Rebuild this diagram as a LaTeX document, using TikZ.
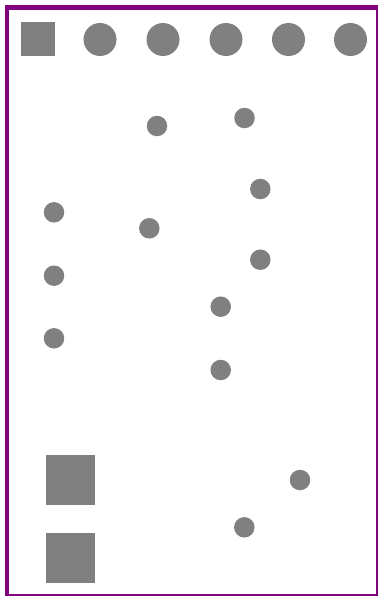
\documentclass[tikz,border=0pt]{standalone}
\definecolor{frame}{HTML}{800080}
\definecolor{shape}{HTML}{808080}
\tikzset{
  bigdot/.style={circle,fill=shape,draw=none,inner sep=0pt,minimum size=33pt},
  dot/.style={circle,fill=shape,draw=none,inner sep=0pt,minimum size=20.5pt},
  smallsq/.style={rectangle,fill=shape,draw=none,inner sep=0pt,minimum size=34pt},
  bigsq/.style={rectangle,fill=shape,draw=none,inner sep=0pt,minimum size=49.5pt},
}
\begin{document}
\begin{tikzpicture}[x=1pt,y=-1pt]
\useasboundingbox (0,0) rectangle (379,597);
\fill[white] (0,0) rectangle (379,597);
% frame
\fill[frame] (4.5,5) rectangle (9,596);
\fill[frame] (4.5,5) rectangle (378,10);
\fill[frame] (375.5,5) rectangle (377.5,596);
\fill[frame] (4.5,594) rectangle (377.5,596);
% top row
\node[smallsq] (s0) at (38,39) {};
\node[bigdot] (c1) at (100,39.5) {};
\node[bigdot] (c2) at (163,39.5) {};
\node[bigdot] (c3) at (226,39.5) {};
\node[bigdot] (c4) at (288.5,39.5) {};
\node[bigdot] (c5) at (350.5,39.5) {};
% small dots
\node[dot] (d1) at (157,126) {};
\node[dot] (d2) at (244.5,118) {};
\node[dot] (d3) at (260.3,189) {};
\node[dot] (d4) at (54,212.3) {};
\node[dot] (d5) at (149.3,228.3) {};
\node[dot] (d6) at (260.3,259.7) {};
\node[dot] (d7) at (54,275.7) {};
\node[dot] (d8) at (220.7,306.7) {};
\node[dot] (d9) at (54,338.3) {};
\node[dot] (d10) at (220.7,370) {};
\node[dot] (d11) at (300,480) {};
\node[dot] (d12) at (244.3,527.3) {};
% bottom squares
\node[bigsq] (b1) at (70.5,480) {};
\node[bigsq] (b2) at (70.5,558) {};
\end{tikzpicture}
\end{document}
